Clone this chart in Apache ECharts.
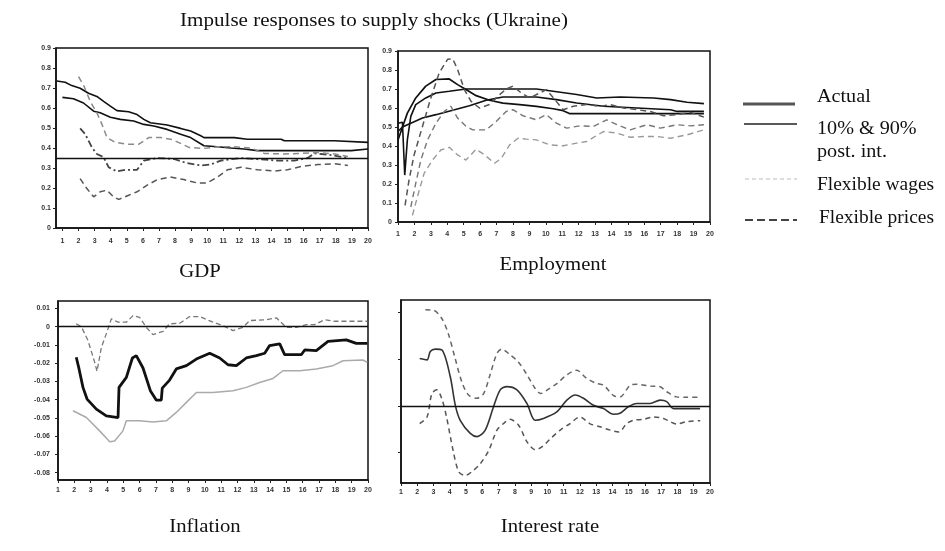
<!DOCTYPE html>
<html>
<head>
<meta charset="utf-8">
<script src="https://cdn.jsdelivr.net/npm/echarts@6/dist/echarts.min.js"></script>
<style>
  html, body { margin: 0; padding: 0; background: #fff; }
  #main { width: 945px; height: 551px; }
</style>
</head>
<body>
<div id="main"></div>
<script>
// horizons 1..20 (tick labels of every panel)
var horizons = [1,2,3,4,5,6,7,8,9,10,11,12,13,14,15,16,17,18,19,20];

// ---- GDP ----
var gdpTicks = [0,0.1,0.2,0.3,0.4,0.5,0.6,0.7,0.8,0.9];
var gdpBase = 0.35;
var gdpHiX = [0.65,1.17,1.58,2.1,2.62,3.14,3.56,3.98,4.39,5.12,5.64,6.06,6.47,7.51,8.35,8.97,9.6,9.8,11.68,12.5,14.6,14.8,17.9,18.0,20];
var gdpHiY = [0.735,0.729,0.712,0.699,0.674,0.658,0.633,0.609,0.587,0.581,0.567,0.543,0.526,0.515,0.498,0.485,0.461,0.452,0.452,0.444,0.444,0.436,0.436,0.428,0.428];
var gdpLoX = [1.0,1.69,2.31,2.94,3.35,3.98,4.6,5.43,6.06,6.68,7.51,8.35,8.97,9.8,10.64,11.47,12.3,13.13,18.96,19.06,20];
var gdpLoY = [0.653,0.646,0.625,0.584,0.576,0.554,0.543,0.535,0.518,0.51,0.493,0.469,0.452,0.411,0.406,0.4,0.395,0.387,0.387,0.395,0.395];
var gdpActX = [2.1,2.42,2.83,3.14,3.56,3.87,4.39,4.91,5.64,6.06,6.89,7.93,8.76,9.6,10.2,10.84,12.09,13.13,14.38,15.42,16.25,16.67,17.5,18.75];
var gdpActY = [0.498,0.469,0.403,0.37,0.354,0.304,0.283,0.291,0.291,0.337,0.35,0.345,0.324,0.313,0.317,0.337,0.35,0.344,0.337,0.337,0.35,0.373,0.367,0.35];
var gdpFpX = [2.0,2.31,2.73,3.14,3.46,3.77,4.29,5.02,5.75,6.37,7.1,7.83,8.45,8.87,9.8,10.64,11.68,12.72,13.55,14.8,15.84,16.88,17.92,18.75];
var gdpFpY = [0.757,0.715,0.633,0.576,0.518,0.452,0.428,0.419,0.419,0.452,0.452,0.442,0.419,0.403,0.398,0.406,0.406,0.4,0.373,0.37,0.373,0.378,0.37,0.357];
var gdpFwX = [2.1,2.52,2.94,3.35,3.77,4.18,4.5,5.12,5.64,6.27,6.89,7.72,8.55,9.39,10.0,10.64,11.26,12.09,13.13,14.17,15.0,15.84,16.88,17.92,18.75];
var gdpFwY = [0.247,0.197,0.156,0.181,0.189,0.156,0.143,0.164,0.181,0.214,0.242,0.255,0.242,0.225,0.225,0.255,0.291,0.304,0.291,0.285,0.291,0.308,0.317,0.321,0.313];

// ---- Employment ----
var empTicks = [0,0.1,0.2,0.3,0.4,0.5,0.6,0.7,0.8,0.9];
var empAX = [1.0,1.27,1.57,2.08,2.69,3.31,4.12,4.63,5.14,5.76,6.57,7.39,8.41,9.43,10.45,11.06,11.47,19.63];
var empAY = [0.432,0.499,0.573,0.653,0.715,0.75,0.753,0.723,0.697,0.665,0.641,0.626,0.618,0.609,0.596,0.586,0.57,0.57];
var empBX = [1.0,1.27,1.41,1.57,1.78,2.08,2.69,3.31,4.12,5.14,9.43,10.45,11.88,13.1,14.53,16.57,17.6,18.6,19.63];
var empBY = [0.52,0.525,0.247,0.432,0.556,0.618,0.653,0.679,0.688,0.7,0.7,0.688,0.671,0.653,0.658,0.653,0.644,0.63,0.623];
var empCX = [1.0,1.27,1.78,2.49,3.31,4.33,5.35,6.37,7.39,9.43,10.65,11.88,13.51,15.55,17.6,18.0,19.63];
var empCY = [0.476,0.5,0.52,0.547,0.565,0.588,0.612,0.641,0.658,0.658,0.644,0.626,0.609,0.6,0.591,0.582,0.582];
var empFpX = [1.43,1.67,1.98,2.49,3.0,3.51,4.02,4.33,4.63,5.04,5.45,5.96,6.57,7.08,7.59,8.0,8.51,9.02,9.63,10.04,10.55,11.06,11.67,12.49,13.31,13.92,14.73,15.55,16.37,17.18,18.0,18.82,19.63];
var empFpY = [0.088,0.22,0.353,0.503,0.653,0.785,0.856,0.859,0.803,0.697,0.635,0.6,0.618,0.662,0.7,0.715,0.679,0.653,0.679,0.697,0.644,0.591,0.609,0.618,0.609,0.618,0.6,0.591,0.582,0.559,0.565,0.577,0.552];
var empFw1X = [1.78,2.08,2.39,2.8,3.31,3.82,4.22,4.63,5.14,5.55,6.37,6.98,7.59,8.0,8.61,9.43,10.04,10.65,11.27,12.08,12.9,13.71,14.33,15.14,16.16,16.98,18.0,18.82,19.63];
var empFw1Y = [0.079,0.203,0.326,0.432,0.52,0.582,0.609,0.547,0.503,0.485,0.485,0.529,0.582,0.591,0.559,0.538,0.565,0.52,0.494,0.506,0.503,0.538,0.512,0.485,0.512,0.494,0.512,0.506,0.512];
var empFw2X = [1.88,2.18,2.59,3.1,3.61,4.12,4.63,5.14,5.76,6.27,6.88,7.29,7.8,8.31,8.82,9.43,10.24,11.06,11.88,12.49,13.51,14.33,15.14,15.96,16.78,17.6,18.61,19.63];
var empFw2Y = [0.035,0.132,0.256,0.326,0.379,0.393,0.353,0.326,0.383,0.353,0.309,0.335,0.406,0.441,0.436,0.432,0.406,0.401,0.415,0.424,0.476,0.468,0.446,0.45,0.45,0.441,0.459,0.485];

// ---- Inflation ----
var infTicks = [-0.08,-0.07,-0.06,-0.05,-0.04,-0.03,-0.02,-0.01,0,0.01];
var infActX = [2.12,2.29,2.53,2.78,3.35,3.96,4.68,4.74,5.19,5.56,5.8,6.21,6.66,7.03,7.33,7.39,7.84,8.25,8.87,9.48,10.3,10.91,11.42,11.93,12.54,13.16,13.67,13.97,14.59,14.89,15.91,16.12,16.83,17.55,18.67,19.28,19.96];
var infActY = [-0.0168,-0.0232,-0.0333,-0.0397,-0.0452,-0.0489,-0.0498,-0.0333,-0.0278,-0.0172,-0.0159,-0.0227,-0.0351,-0.0403,-0.0403,-0.0337,-0.0293,-0.0232,-0.0214,-0.0178,-0.0146,-0.0172,-0.0209,-0.0214,-0.0172,-0.0159,-0.0146,-0.0104,-0.0095,-0.0154,-0.0154,-0.0128,-0.0132,-0.0081,-0.0073,-0.0092,-0.0092];
var infLoX = [1.92,2.74,3.55,4.17,4.47,4.98,5.19,6.0,6.82,7.64,8.25,8.87,9.48,10.5,11.73,12.54,13.36,14.18,14.79,15.81,16.83,17.85,18.47,19.69,19.96];
var infLoY = [-0.0461,-0.0498,-0.0571,-0.0631,-0.0626,-0.0571,-0.0516,-0.0516,-0.0522,-0.0516,-0.047,-0.0415,-0.0361,-0.0361,-0.0351,-0.0333,-0.0306,-0.0284,-0.0242,-0.0242,-0.0232,-0.0214,-0.0187,-0.0183,-0.0196];
var infHiX = [2.12,2.43,2.84,3.25,3.39,3.66,3.96,4.27,4.68,5.19,5.6,6.0,6.41,6.82,7.44,7.84,8.46,9.07,9.68,10.5,11.11,11.73,12.34,12.75,13.77,14.38,14.99,15.61,16.22,16.73,17.34,17.96,19.96];
var infHiY = [0.0015,0,-0.0077,-0.0196,-0.0245,-0.0113,-0.004,0.0042,0.0024,0.0024,0.006,0.0051,-0.0004,-0.0044,-0.0026,0.0015,0.0018,0.0055,0.0055,0.0024,0.0005,-0.0022,-0.0004,0.0033,0.0037,0.0048,-0.0004,-0.0004,0.0011,0.0011,0.0037,0.0029,0.0029];

// ---- Interest rate ----
var irTicks = [-1,0,1,2];
var irActX = [2.15,2.6,2.8,3.11,3.52,4.03,4.34,4.64,5.26,5.67,6.18,6.69,7.1,7.51,8.13,8.74,9.25,9.76,10.58,11.2,11.71,12.22,12.83,13.45,14.06,14.47,14.98,15.5,16.32,16.93,17.34,17.75,18.57,19.39];
var irActY = [1.01,0.98,1.16,1.21,1.19,0.62,0.01,-0.31,-0.59,-0.66,-0.52,-0.02,0.34,0.41,0.34,0.05,-0.31,-0.27,-0.13,0.12,0.23,0.16,0.01,-0.06,-0.18,-0.16,-0.02,0.05,0.05,0.12,0.09,-0.06,-0.06,-0.06];
var irHiX = [2.5,3.0,3.5,3.9,4.3,4.74,5.15,5.65,6.08,6.5,6.9,7.2,7.7,8.2,8.7,9.25,9.6,10.0,10.6,11.2,11.8,12.4,13.0,13.45,14.1,14.47,15.1,15.5,16.32,16.9,17.34,17.95,18.57,19.4];
var irHiY = [2.05,2.04,1.87,1.55,1.05,0.51,0.23,0.16,0.26,0.69,1.12,1.21,1.09,0.94,0.69,0.37,0.26,0.34,0.48,0.66,0.76,0.59,0.48,0.44,0.21,0.19,0.44,0.46,0.42,0.41,0.3,0.19,0.18,0.18];
var irLoX = [2.15,2.6,2.9,3.2,3.5,3.8,4.2,4.55,4.95,5.35,5.87,6.4,6.9,7.3,7.71,8.22,8.75,9.25,9.66,10.2,10.79,11.4,12.0,12.6,13.25,13.86,14.4,14.88,15.3,15.91,16.5,17.14,17.55,17.96,18.57,19.4];
var irLoY = [-0.38,-0.24,0.26,0.34,0.16,-0.24,-0.95,-1.41,-1.49,-1.41,-1.24,-0.95,-0.52,-0.38,-0.29,-0.41,-0.77,-0.94,-0.88,-0.7,-0.52,-0.38,-0.24,-0.38,-0.45,-0.52,-0.56,-0.38,-0.31,-0.29,-0.24,-0.27,-0.34,-0.39,-0.34,-0.32];

function pairs(xs, ys) {
  return xs.map(function (x, i) { return [x, ys[i]]; });
}

function line(idx, xs, ys, color, width, dash, extra) {
  var s = {
    type: 'line',
    xAxisIndex: idx,
    yAxisIndex: idx,
    data: pairs(xs, ys),
    symbol: 'none',
    silent: true,
    lineStyle: { color: color, width: width, type: dash || 'solid' }
  };
  if (extra) { for (var k in extra) s[k] = extra[k]; }
  return s;
}

function hline(v) {
  return {
    symbol: 'none', silent: true, label: { show: false },
    lineStyle: { color: '#111', width: 1.4, type: 'solid' },
    data: [{ yAxis: v }]
  };
}

var serif = '"Liberation Serif", "DejaVu Serif", serif';
var tinyLabel = { fontSize: 7, fontWeight: 'bold', color: '#333', fontFamily: 'Arial, "Liberation Sans", sans-serif' };

function xAx(idx, min, margin) {
  return {
    type: 'value', gridIndex: idx, min: min, max: 20,
    axisLine: { show: true, onZero: false, lineStyle: { color: '#111', width: 1.5 } },
    axisTick: { show: true, length: 3, customValues: horizons, lineStyle: { color: '#222' } },
    axisLabel: Object.assign({ customValues: horizons, margin: margin }, tinyLabel),
    splitLine: { show: false }
  };
}

function yAx(idx, min, max, ticks, showLabels, margin, fmt) {
  return {
    type: 'value', gridIndex: idx, min: min, max: max,
    axisLine: { show: true, onZero: false, lineStyle: { color: '#111', width: 1.5 } },
    axisTick: { show: true, length: 3, customValues: ticks, lineStyle: { color: '#222' } },
    axisLabel: Object.assign({ show: showLabels, customValues: ticks, margin: margin, formatter: fmt }, tinyLabel),
    splitLine: { show: false }
  };
}

function txt(x, y, s, size, sx, align) {
  return {
    type: 'text', x: x, y: y, scaleX: sx, silent: true,
    style: { text: s, fontSize: size, fontFamily: serif, fill: '#111',
             textAlign: align || 'center', textVerticalAlign: 'middle' }
  };
}

function seg(x1, x2, y, color, width, dash) {
  return {
    type: 'line', silent: true,
    shape: { x1: x1, y1: y, x2: x2, y2: y },
    style: { stroke: color, lineWidth: width, lineDash: dash || null }
  };
}

var chart = echarts.init(document.getElementById('main'), null, { renderer: 'canvas' });

chart.setOption({
  animation: false,
  backgroundColor: '#fff',
  grid: [
    { left: 56, top: 48, width: 312, height: 180, show: true, borderColor: '#111', borderWidth: 1.5 },
    { left: 398, top: 51, width: 312, height: 171, show: true, borderColor: '#111', borderWidth: 1.5 },
    { left: 58, top: 301, width: 310, height: 179, show: true, borderColor: '#111', borderWidth: 1.5 },
    { left: 401, top: 300, width: 309, height: 183, show: true, borderColor: '#111', borderWidth: 1.5 }
  ],
  xAxis: [xAx(0, 0.6, 10), xAx(1, 1, 9), xAx(2, 1, 7), xAx(3, 1, 6)],
  yAxis: [
    yAx(0, 0, 0.9, gdpTicks, true, 5, function (v) { return String(Math.round(v * 10) / 10); }),
    yAx(1, 0, 0.9, empTicks, true, 6, function (v) { return String(Math.round(v * 10) / 10); }),
    yAx(2, -0.084, 0.014, infTicks, true, 8, function (v) { return String(Math.round(v * 100) / 100); }),
    yAx(3, -1.65, 2.26, irTicks, false, 6)
  ],
  series: [
    // GDP
    line(0, gdpHiX, gdpHiY, '#111', 1.6, 'solid', { markLine: hline(gdpBase) }),
    line(0, gdpLoX, gdpLoY, '#111', 1.6),
    line(0, gdpActX, gdpActY, '#444', 1.8, [7, 3, 2, 3]),
    line(0, gdpFpX, gdpFpY, '#8a8a8a', 1.5, [6, 4]),
    line(0, gdpFwX, gdpFwY, '#555', 1.5, [6, 4]),
    // Employment
    line(1, empAX, empAY, '#111', 1.7),
    line(1, empBX, empBY, '#111', 1.6),
    line(1, empCX, empCY, '#111', 1.6),
    line(1, empFpX, empFpY, '#555', 1.5, [6, 4]),
    line(1, empFw1X, empFw1Y, '#777', 1.4, [6, 4]),
    line(1, empFw2X, empFw2Y, '#999', 1.4, [6, 4]),
    // Inflation
    line(2, infLoX, infLoY, '#aaa', 1.5),
    line(2, infHiX, infHiY, '#777', 1.3, [5, 3], { markLine: hline(0) }),
    line(2, infActX, infActY, '#111', 2.8),
    // Interest rate
    line(3, irHiX, irHiY, '#666', 1.5, [5, 4], { smooth: 0.3 }),
    line(3, irLoX, irLoY, '#555', 1.5, [5, 4], { smooth: 0.3 }),
    line(3, irActX, irActY, '#333', 1.6, 'solid', { smooth: 0.3, markLine: hline(0) })
  ],
  graphic: [
    txt(374, 21, 'Impulse responses to supply shocks (Ukraine)', 18, 1.17),
    txt(200, 272, 'GDP', 18, 1.15),
    txt(553, 265, 'Employment', 18, 1.15),
    txt(205, 527, 'Inflation', 18, 1.15),
    txt(550, 527, 'Interest rate', 18, 1.15),
    seg(743, 795, 104, '#555', 3),
    seg(744, 797, 124, '#222', 1.5),
    seg(745, 797, 179, '#bbb', 1, [4, 3]),
    seg(745, 797, 220, '#444', 2, [8, 4]),
    txt(817, 97, 'Actual', 18, 1.12, 'left'),
    txt(817, 129, '10% & 90%', 18, 1.12, 'left'),
    txt(817, 152, 'post. int.', 18, 1.12, 'left'),
    txt(817, 185, 'Flexible wages', 18, 1.08, 'left'),
    txt(819, 218, 'Flexible prices', 18, 1.08, 'left')
  ]
});
</script>
</body>
</html>
